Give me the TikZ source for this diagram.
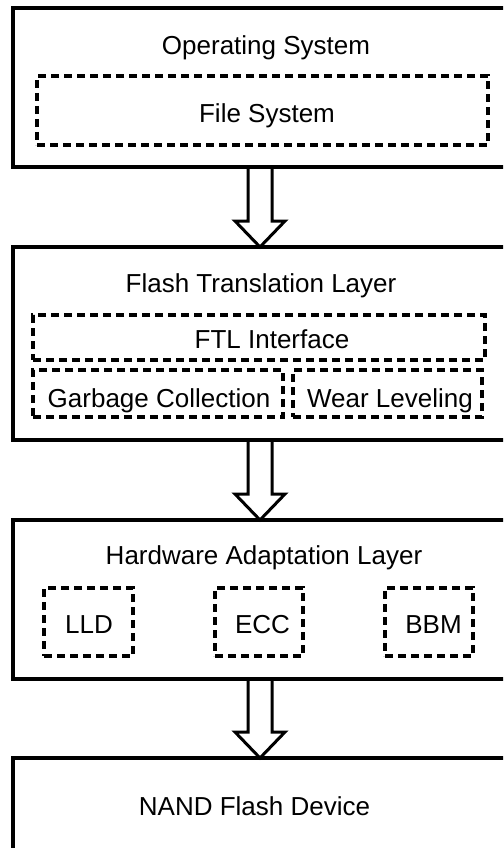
\documentclass[tikz,border=0pt]{standalone}
\usepackage{fontspec}
\setmainfont{Liberation Sans}
\begin{document}
\begin{tikzpicture}[x=1pt,y=-1pt,
  layer/.style={draw=black,line width=4pt,rectangle,inner sep=0pt,outer sep=0pt},
  part/.style={draw=black,line width=3.2pt,dash pattern=on 8pt off 5pt,rectangle,inner sep=0pt,outer sep=0pt},
  lbl/.style={anchor=base,inner sep=0pt,font=\fontsize{26}{30}\selectfont},
  hollow/.style={draw=black,line width=3pt,line join=miter}]
\useasboundingbox (0,0) rectangle (503,848);
\clip (0,0) rectangle (503,848);
% layers
\node[layer,minimum width=494pt,minimum height=159pt] (os) at (260,87.5) {};
\node[layer,minimum width=494pt,minimum height=193pt] (ftl) at (260,343.5) {};
\node[layer,minimum width=494pt,minimum height=159pt] (hal) at (260,599.5) {};
\node[layer,minimum width=494pt,minimum height=102pt] (nand) at (260,809) {};
% parts
\node[part,minimum width=451pt,minimum height=69pt] (fs) at (262.5,110.5) {};
\node[part,minimum width=452pt,minimum height=45pt] (ftli) at (259,337.5) {};
\node[part,minimum width=250pt,minimum height=47pt] (gc) at (158,393.5) {};
\node[part,minimum width=189pt,minimum height=47pt] (wl) at (387.5,393.5) {};
\node[part,minimum width=89pt,minimum height=68pt] (lld) at (88.5,622) {};
\node[part,minimum width=88pt,minimum height=68pt] (ecc) at (259,622) {};
\node[part,minimum width=88pt,minimum height=68pt] (bbm) at (429,622) {};
% labels
\node[lbl] (tos) at (266,55) {Operating System};
\node[lbl] (tfs) at (267,123) {File System};
\node[lbl] (tftl) at (261,292) {Flash Translation Layer};
\node[lbl] (tftli) at (272,348) {FTL Interface};
\node[lbl] (tgc) at (159,407) {Garbage Collection};
\node[lbl] (twl) at (390,407) {Wear Leveling};
\node[lbl] (thal) at (264,564) {Hardware Adaptation Layer};
\node[lbl] (tlld) at (89,633) {LLD};
\node[lbl] (tecc) at (262.5,633) {ECC};
\node[lbl] (tbbm) at (433.5,633) {BBM};
\node[lbl] (tnand) at (254.5,815) {NAND Flash Device};
% hollow arrows
\foreach \a/\b in {os/ftl,ftl/hal,hal/nand}{
  \draw[hollow] ([xshift=-12pt]\a.south) -- ([xshift=-12pt,yshift=26pt]\b.north)
    -- ([xshift=-25pt,yshift=26pt]\b.north) -- (\b.north)
    -- ([xshift=25pt,yshift=26pt]\b.north) -- ([xshift=12pt,yshift=26pt]\b.north)
    -- ([xshift=12pt]\a.south);
}
\end{tikzpicture}
\end{document}
